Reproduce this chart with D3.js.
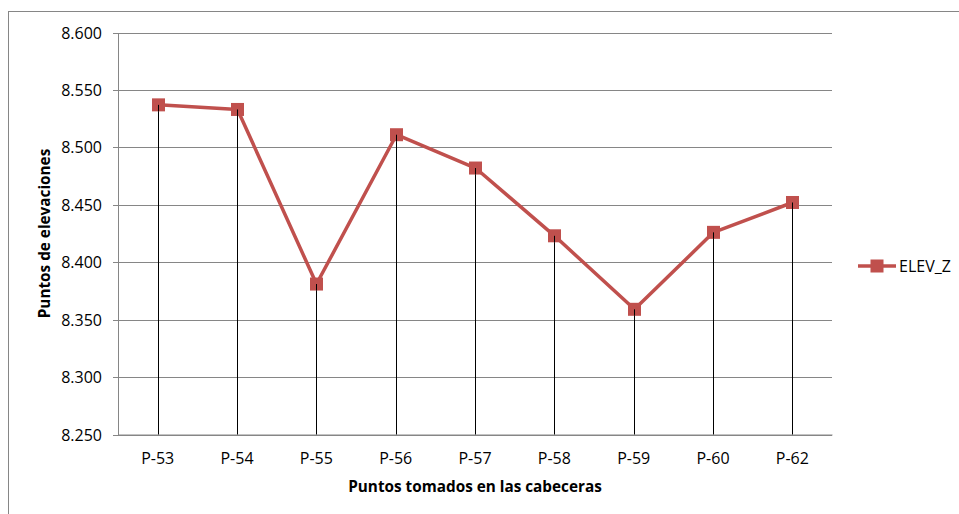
<!DOCTYPE html>
<html><head><meta charset="utf-8">
<script src="https://cdn.jsdelivr.net/npm/d3@7"></script>
<style>body{margin:0;background:#fff}svg{display:block}</style>
</head><body>
<svg id="c" width="959" height="514"></svg>
<script>
const categories = ["P-53","P-54","P-55","P-56","P-57","P-58","P-59","P-60","P-62"];
const elevZ = [8.537, 8.533, 8.381, 8.511, 8.482, 8.423, 8.359, 8.426, 8.452];
const yTicks = [8.25, 8.30, 8.35, 8.40, 8.45, 8.50, 8.55, 8.60];
const seriesName = "ELEV_Z";
const xTitle = "Puntos tomados en las cabeceras";
const yTitle = "Puntos de elevaciones";

const svg = d3.select("#c");
const W = 959, H = 514;
const m = {left: 118, top: 32.5, right: 832, bottom: 434.5};
const red = "#C0504D", grid = "#868686";
const font = "'Open Sans', sans-serif";

// outer border
svg.append("rect").attr("x", 8.5).attr("y", 11.5).attr("width", W).attr("height", H)
  .attr("fill", "none").attr("stroke", grid).attr("stroke-width", 1);

const x = d3.scaleBand().domain(categories).range([m.left, m.right]);
const y = d3.scaleLinear().domain([8.25, 8.60]).range([m.bottom, m.top]);

// gridlines + y axis
const yAxis = d3.axisLeft(y).tickValues(yTicks).tickFormat(d3.format(".3f"))
  .tickSize(-(m.right - m.left)).tickSizeOuter(0).tickPadding(16);
const gy = svg.append("g").attr("transform", `translate(${m.left},0)`).call(yAxis);
gy.select(".domain").attr("stroke", grid);
gy.selectAll(".tick line").attr("stroke", grid).attr("x1", -5);
gy.selectAll(".tick text").attr("font-family", font).attr("font-size", 16).attr("fill", "#000").attr("dy", "0.34em");
gy.selectAll(".tick").attr("transform", d => `translate(0,${Math.round(y(d)) + 0.5})`);

// x axis
const xAxis = d3.axisBottom(x).tickSize(0).tickPadding(18);
const gx = svg.append("g").attr("transform", `translate(0,${m.bottom})`).call(xAxis);
gx.select(".domain").attr("stroke", grid);
gx.selectAll(".tick text").attr("font-family", font).attr("font-size", 16).attr("fill", "#000");

const cx = d => Math.round(x(d) + x.bandwidth() / 2) + 0.5;

// drop lines
svg.append("g").selectAll("line").data(categories).join("line")
  .attr("x1", cx).attr("x2", cx)
  .attr("y1", (d, i) => y(elevZ[i])).attr("y2", m.bottom)
  .attr("stroke", "#000").attr("stroke-width", 1);

// series line
const line = d3.line().x((d, i) => cx(categories[i])).y(d => y(d));
svg.append("path").datum(elevZ).attr("d", line)
  .attr("fill", "none").attr("stroke", red).attr("stroke-width", 3.5).attr("stroke-linejoin", "round");

// markers
const ms = 13;
svg.append("g").selectAll("rect").data(elevZ).join("rect")
  .attr("x", (d, i) => cx(categories[i]) - ms / 2).attr("y", d => y(d) - ms / 2)
  .attr("width", ms).attr("height", ms).attr("fill", red);

// drop lines visible over markers
svg.append("g").selectAll("line").data(categories).join("line")
  .attr("x1", cx).attr("x2", cx)
  .attr("y1", (d, i) => y(elevZ[i])).attr("y2", (d, i) => y(elevZ[i]) + ms / 2)
  .attr("stroke", "#000").attr("stroke-width", 1);

// axis titles
svg.append("text").attr("x", (m.left + m.right) / 2).attr("y", 487).attr("dy", "0.35em")
  .attr("text-anchor", "middle").attr("font-family", font).attr("font-weight", "bold")
  .attr("font-size", 15.3).text(xTitle);
svg.append("text").attr("transform", `translate(45,${(m.top + m.bottom) / 2}) rotate(-90)`)
  .attr("dy", "0.35em").attr("text-anchor", "middle").attr("font-family", font)
  .attr("font-weight", "bold").attr("font-size", 15.3).text(yTitle);

// legend
const lg = svg.append("g").attr("transform", "translate(858,266)");
lg.append("line").attr("x1", 0).attr("x2", 38).attr("stroke", red).attr("stroke-width", 3.5);
lg.append("rect").attr("x", 19 - ms / 2).attr("y", -ms / 2).attr("width", ms).attr("height", ms).attr("fill", red);
lg.append("text").attr("x", 41).attr("dy", "0.35em").attr("font-family", font).attr("font-size", 16).text(seriesName);
</script>
</body></html>
